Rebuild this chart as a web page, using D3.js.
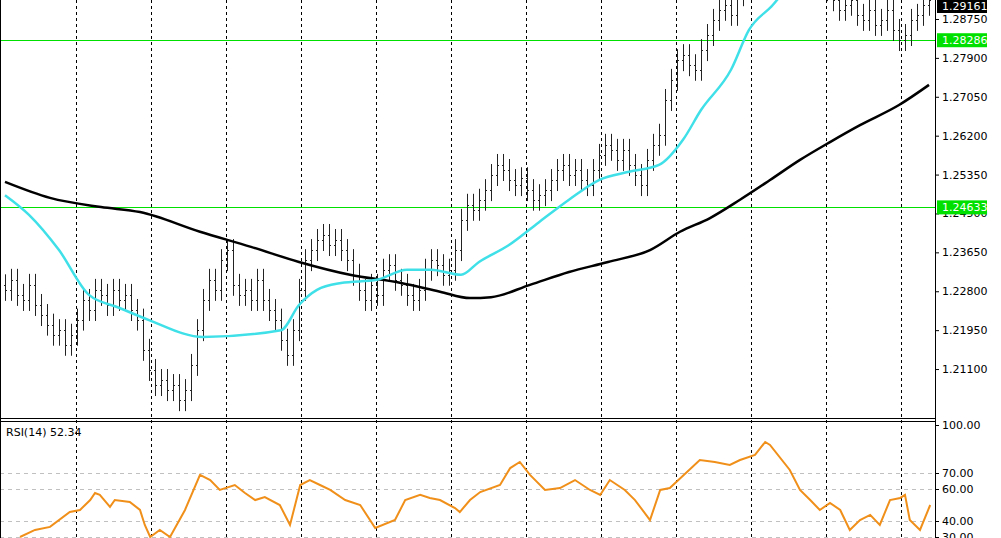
<!DOCTYPE html>
<html><head><meta charset="utf-8">
<script src="https://cdn.jsdelivr.net/npm/d3@7"></script>
<style>body{margin:0;background:#fff}svg{display:block}text{font-family:"DejaVu Sans",sans-serif;font-size:11px}</style>
</head><body>
<script>
// closes, one per bar
var closes = [
1.2283,1.2305,1.2272,1.2261,1.2294,1.2250,1.2228,1.2207,1.2185,1.2195,
1.2163,1.2185,1.2218,1.2261,1.2239,1.2283,1.2272,1.2250,1.2283,1.2261,
1.2272,1.2239,1.2218,1.2152,1.2108,1.2075,1.2086,1.2064,1.2075,1.2042,
1.2064,1.2119,1.2195,1.2261,1.2305,1.2283,1.2348,1.2370,1.2294,1.2272,
1.2283,1.2261,1.2305,1.2261,1.2239,1.2218,1.2174,1.2141,1.2195,1.2283,
1.2348,1.2370,1.2392,1.2403,1.2381,1.2392,1.2370,1.2348,1.2316,1.2283,
1.2261,1.2294,1.2272,1.2327,1.2337,1.2305,1.2294,1.2272,1.2261,1.2283,
1.2327,1.2348,1.2337,1.2316,1.2327,1.2370,1.2436,1.2469,1.2458,1.2480,
1.2501,1.2534,1.2556,1.2545,1.2523,1.2512,1.2527,1.2501,1.2480,1.2490,
1.2501,1.2523,1.2545,1.2556,1.2534,1.2545,1.2523,1.2512,1.2545,1.2578,
1.2600,1.2589,1.2567,1.2589,1.2556,1.2534,1.2512,1.2567,1.2600,1.2622,
1.2698,1.2742,1.2785,1.2796,1.2774,1.2764,1.2807,1.2840,1.2873,1.2895,
1.2906,1.2884,1.2927,1.2960,1.3004,1.3048,1.3091,1.3113,1.3135,1.3113,
1.3091,1.3069,1.3048,1.3026,1.3004,1.2982,1.2960,1.2938,1.2916,1.2895,
1.2906,1.2916,1.2884,1.2873,1.2895,1.2862,1.2873,1.2895,1.2851,1.2829,
1.2840,1.2873,1.2884,1.2906,1.2916
];
var fastIdx = [0,4,9,14,19,24,33,46,49,52,56,62,67,71,76,79,84,89,94,99,104,109,113,116,121,124,128,130];
var fastMA  = [1.2490,1.2447,1.2370,1.2272,1.2244,1.2217,1.2180,1.2195,1.2250,1.2283,1.2298,1.2305,1.2327,1.2327,1.2316,1.2344,1.2381,1.2431,1.2480,1.2523,1.2541,1.2556,1.2611,1.2676,1.2764,1.2851,1.2906,1.2938];
var slowIdx = [0,7.5,16,22.5,32.5,41,49,57.5,66,72.5,77.5,81,87.5,94,100.5,107.5,112.5,117.5,122.5,127.5,132.5,137.5,142.5,149,154];
var slowMA  = [1.2519,1.2484,1.2464,1.2453,1.2410,1.2377,1.2344,1.2316,1.2298,1.2279,1.2265,1.2267,1.2294,1.2322,1.2344,1.2370,1.2410,1.2440,1.2480,1.2523,1.2567,1.2606,1.2643,1.2687,1.2731];
var rsiIdx = [2.5,5,7.5,10.8,12.5,14.2,15,15.8,17.5,18.3,20.8,22.5,23.3,24.2,25.8,27.5,30,32.5,34.2,35.8,38.3,40,41.7,43.3,45.8,47.5,49.2,50.8,52.5,54.2,56.7,59.2,61.7,65,66.7,69.2,70.8,72.5,75,75.8,77.5,79.2,82.5,84.2,85.8,87.5,90,92.5,95,97.5,99.2,100.8,103.3,105,107.5,109.2,110.8,115.8,118.3,120.8,122.5,125,126.7,127.5,130.8,132.5,134.2,135.8,137.5,139.2,140.8,142.5,144.2,145.8,147.5,149.2,150,150.8,152.5,154.2];
var rsi = [30,34.4,36.3,45.6,46.9,53.1,57.5,56.3,48.8,53.1,51.9,46.9,37.5,30,34.4,30,46.9,68.8,65.6,59.4,62.5,57.5,53.1,55,50,37.5,62.5,65.6,62.5,59.4,53.1,50,35.6,40.6,53.1,56.3,54.4,53.1,48.1,45.6,53.1,58.1,62.5,73.1,76.9,68.8,59.4,60.6,65.6,59.4,56.3,65.6,59.4,53.1,40.6,59.4,60.6,78.1,76.9,75,78.1,81.3,89.4,87.5,71.9,59.4,53.1,46.9,51.3,46.9,34.4,40.6,43.8,37.5,53.1,54.4,56.3,40.6,34.4,50,56.3,53.1];
var priceTicks = [1.28750,1.27900,1.27050,1.26200,1.25350,1.24500,1.23650,1.22800,1.21950,1.21100];
var rsiTicks = [100,70,60,40,30];
var rsiLevels = [70,60,40,30];
var hLines = [1.28286,1.24633];
var lastPrice = 1.29161;
var gridIdx = [11.8,24.3,36.8,49.3,61.8,74.3,86.8,99.3,111.8,124.3,136.8,149.3];

var W = 1001, H = 538, AX = 935;
var svg = d3.select("body").append("svg").attr("width", W).attr("height", H);

var x = d3.scaleLinear().domain([0,155]).range([5, AX]);
var y = d3.scaleLinear().domain([1.20030,1.29165]).range([418, 0]);
var yr = d3.scaleLinear().domain([30,100]).range([537, 425]);

svg.append("clipPath").attr("id","pc").append("rect").attr("x",0).attr("y",0).attr("width",AX).attr("height",418);
svg.append("clipPath").attr("id","rc").append("rect").attr("x",0).attr("y",422).attr("width",AX).attr("height",116);

// grids
svg.selectAll(".vg").data(gridIdx).enter().append("line")
	.attr("x1", function(d){ return Math.round(x(d))+0.5; }).attr("x2", function(d){ return Math.round(x(d))+0.5; })
	.attr("y1", 0).attr("y2", H)
	.attr("stroke", "#000").attr("stroke-dasharray", "3,3");
svg.selectAll(".rl").data(rsiLevels).enter().append("line")
	.attr("x1", 0).attr("x2", AX).attr("y1", function(d){ return Math.round(yr(d))+0.5; }).attr("y2", function(d){ return Math.round(yr(d))+0.5; })
	.attr("stroke", "#c0c0c0").attr("stroke-dasharray", "4,4");

var pg = svg.append("g").attr("clip-path", "url(#pc)");
pg.selectAll(".hl").data(hLines).enter().append("line")
	.attr("x1", 0).attr("x2", AX).attr("y1", function(d){ return Math.round(y(d))+0.5; }).attr("y2", function(d){ return Math.round(y(d))+0.5; })
	.attr("stroke", "#00e000");

// bars
var bars = closes.map(function(c, i){
	var o = i ? closes[i-1] : c + 0.001;
	return { i:i, o:o, c:c, h:Math.max(o,c)+0.0024, l:Math.min(o,c)-0.0024 };
});
var b = pg.selectAll(".bar").data(bars).enter().append("g").attr("stroke", "#222");
b.append("line").attr("x1", function(d){ return Math.round(x(d.i))+0.5; }).attr("x2", function(d){ return Math.round(x(d.i))+0.5; })
	.attr("y1", function(d){ return y(d.h); }).attr("y2", function(d){ return y(d.l); });
b.append("line").attr("x1", function(d){ return Math.round(x(d.i))-1; }).attr("x2", function(d){ return Math.round(x(d.i)); })
	.attr("y1", function(d){ return Math.round(y(d.o))+0.5; }).attr("y2", function(d){ return Math.round(y(d.o))+0.5; });
b.append("line").attr("x1", function(d){ return Math.round(x(d.i))+1; }).attr("x2", function(d){ return Math.round(x(d.i))+2; })
	.attr("y1", function(d){ return Math.round(y(d.c))+0.5; }).attr("y2", function(d){ return Math.round(y(d.c))+0.5; });

var line = d3.line().curve(d3.curveMonotoneX);
pg.append("path").attr("d", line(slowIdx.map(function(d, i){ return [x(d), y(slowMA[i])]; })))
	.attr("fill", "none").attr("stroke", "#000").attr("stroke-width", 2.5);
pg.append("path").attr("d", line(fastIdx.map(function(d, i){ return [x(d), y(fastMA[i])]; })))
	.attr("fill", "none").attr("stroke", "#40e0e8").attr("stroke-width", 2.5);

svg.append("g").attr("clip-path", "url(#rc)").append("path")
	.attr("d", d3.line()(rsiIdx.map(function(d, i){ return [x(d), yr(rsi[i])]; })))
	.attr("fill", "none").attr("stroke", "#f0901a").attr("stroke-width", 2);

// frames
svg.append("line").attr("x1", AX+0.5).attr("x2", AX+0.5).attr("y1", 0).attr("y2", H).attr("stroke", "#000");
svg.append("line").attr("x1", 0).attr("x2", AX).attr("y1", 418.5).attr("y2", 418.5).attr("stroke", "#000");
svg.append("line").attr("x1", 0).attr("x2", AX).attr("y1", 421.5).attr("y2", 421.5).attr("stroke", "#000");
svg.append("line").attr("x1", 0.5).attr("x2", 0.5).attr("y1", 0).attr("y2", H).attr("stroke", "#000");

// axes
var ya = svg.append("g").attr("transform", "translate(" + AX + ",0)")
	.call(d3.axisRight(y).tickValues(priceTicks).tickSize(4).tickFormat(d3.format(".5f")));
ya.select(".domain").remove();
var ra = svg.append("g").attr("transform", "translate(" + AX + ",0)")
	.call(d3.axisRight(yr).tickValues(rsiTicks).tickSize(4).tickFormat(d3.format(".2f")));
ra.select(".domain").remove();
svg.selectAll(".tick text").attr("fill", "#000").style("font-size", "11px");

function tag(v, bg, fg){
	var yy = Math.max(y(v), 6);
	svg.append("rect").attr("x", AX+2).attr("y", yy-7).attr("width", 50).attr("height", 14).attr("fill", bg);
	svg.append("text").attr("x", AX+7).attr("y", yy+4).attr("fill", fg).text(v.toFixed(5));
}
hLines.forEach(function(v){ tag(v, "#00e000", "#fff"); });
tag(lastPrice, "#000", "#fff");

svg.append("text").attr("x", 6).attr("y", 436).text("RSI(14) 52.34");
</script>
</body></html>
